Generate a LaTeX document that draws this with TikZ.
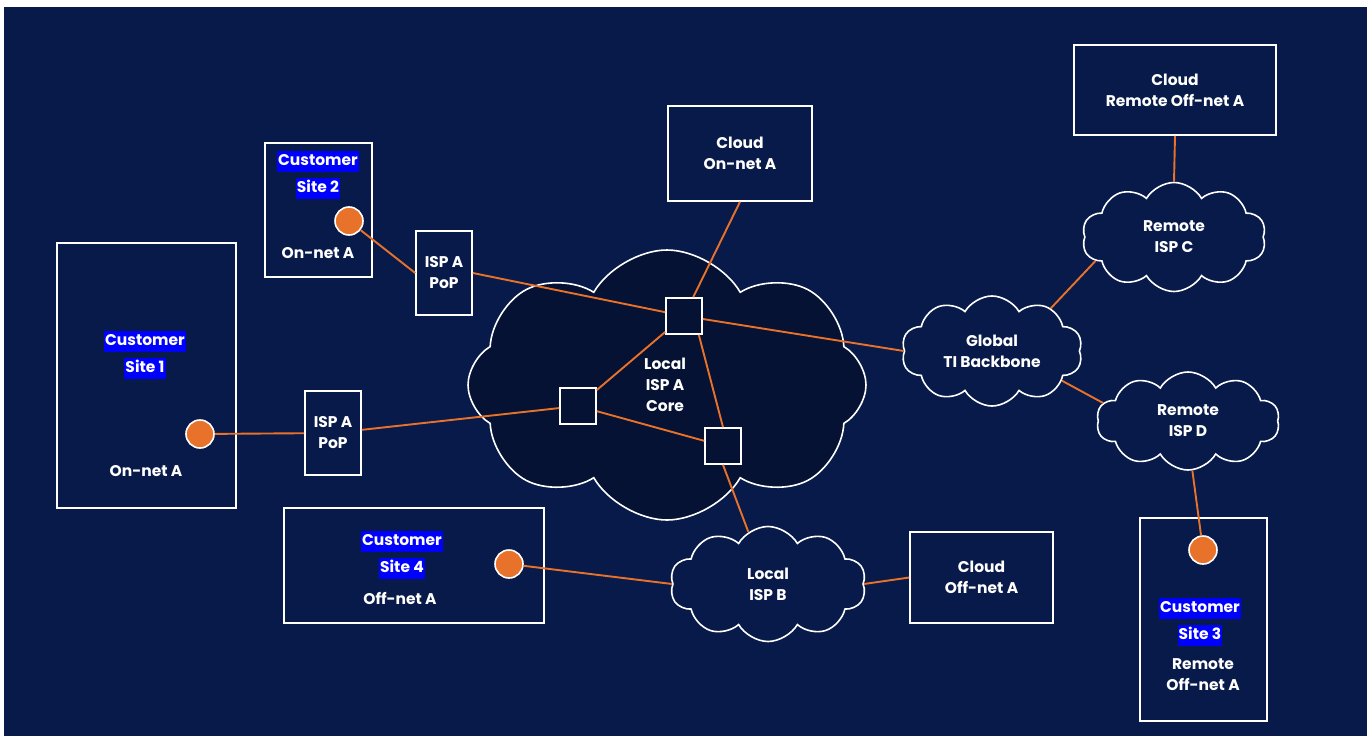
\documentclass[tikz,border=0pt]{standalone}
\usepackage{fontspec}
\setmainfont{Poppins}
\usetikzlibrary{shapes.symbols,calc}
\definecolor{bg}{HTML}{081A4A}
\definecolor{core}{HTML}{051233}
\definecolor{org}{HTML}{E8722A}
\definecolor{hl}{HTML}{0000FF}
\newcommand{\lblfont}{\fontsize{15.5}{21}\selectfont\bfseries}
\tikzset{
 box/.style={draw=white, line width=1.6pt, rectangle, inner sep=0pt, text=white, align=center,
   font=\lblfont},
 lbl/.style={text=white, font=\lblfont, align=center, inner sep=0pt},
 hlt/.style={fill=hl, text=white, font=\lblfont, inner xsep=1pt, inner ysep=0pt, text height=15pt, text depth=6pt},
 dot/.style={circle, fill=org, draw=white, line width=1.6pt, minimum size=28pt, inner sep=0pt},
 link/.style={draw=org, line width=1.9pt},
 cloudn/.style={cloud, cloud puffs=10, cloud puff arc=120, aspect=1.7, draw=white, line width=1.6pt, fill=bg, inner sep=0pt,
   text=white, align=center, font=\lblfont},
 sq/.style={draw=white, line width=1.6pt, fill=core, minimum size=36pt, inner sep=0pt}
}
\begin{document}
\begin{tikzpicture}[x=1pt,y=-1pt]
\useasboundingbox (0,0) rectangle (1367,736);
\fill[white] (0,0) rectangle (1367,736);
\fill[bg] (4,7) rectangle (1367,736);

% boxes
\node[box, minimum width=179pt, minimum height=265pt] (s1) at (146.5,375.5) {};
\node[box, minimum width=107pt, minimum height=134pt] (s2) at (318.5,210) {};
\node[box, minimum width=260pt, minimum height=115pt] (s4) at (414,565.5) {};
\node[box, minimum width=127pt, minimum height=203pt] (s3) at (1203.5,619.5) {};
\node[box, minimum width=56pt, minimum height=84pt] (popU) at (444,273) {ISP A\\PoP};
\node[box, minimum width=56pt, minimum height=84pt] (popL) at (333,433) {ISP A\\PoP};
\node[box, minimum width=144pt, minimum height=95pt] (conA) at (740,153.5) {Cloud\\On-net A};
\node[box, minimum width=202pt, minimum height=90pt] (cRA) at (1175,90) {Cloud\\Remote Off-net A};
\node[box, minimum width=143pt, minimum height=91pt] (cloA) at (981.5,577.5) {Cloud\\Off-net A};

% clouds
\node[cloudn, fill=core, cloud puffs=8, minimum width=398pt, minimum height=270pt] (core) at (667,385) {};
\node[lbl] (coret) at (665,385) {Local\\ISP A\\Core};
\node[cloudn, minimum width=181pt, minimum height=110pt] (glob) at (992,351) {Global\\TI Backbone};
\node[cloudn, minimum width=184pt, minimum height=109pt] (ispC) at (1174,237) {Remote\\ISP C};
\node[cloudn, minimum width=183pt, minimum height=98pt] (ispD) at (1188,421) {Remote\\ISP D};
\node[cloudn, minimum width=196pt, minimum height=115pt] (ispB) at (768,584) {Local\\ISP B};

% core routers
\node[sq] (sq1) at (684,316) {};
\node[sq] (sq2) at (578,406) {};
\node[sq] (sq3) at (723,446) {};

% customer labels
\node[hlt] (h1a) at (145,341) {Customer};
\node[hlt] (h1b) at (145,368) {Site 1};
\node[lbl] (t1) at (146,471) {On-net A};
\node[hlt] (h2a) at (318,161) {Customer};
\node[hlt] (h2b) at (318,188) {Site 2};
\node[lbl] (t2) at (318,253) {On-net A};
\node[hlt] (h4a) at (402,541) {Customer};
\node[hlt] (h4b) at (402,568) {Site 4};
\node[lbl] (t4) at (400,598) {Off-net A};
\node[hlt] (h3a) at (1200,608) {Customer};
\node[hlt] (h3b) at (1200,635) {Site 3};
\node[lbl] (t3) at (1203,674.5) {Remote\\Off-net A};

% dots
\node[dot] (d1) at (200,434) {};
\node[dot] (d2) at (349,221) {};
\node[dot] (d3) at (1203,550) {};
\node[dot] (d4) at (509,564) {};

% links
\draw[link] (d1) -- (popL);
\draw[link] (popL) -- (sq2);
\draw[link] (d2) -- (popU.west);
\draw[link] (popU.east) -- (sq1);
\draw[link] (sq1) -- (glob.west);
\draw[link] (sq1) -- (conA.south);
\draw[link] (sq1) -- (sq2);
\draw[link] ([xshift=-4pt]sq1.south east) -- (sq3.north);
\draw[link] (sq2) -- (sq3);
\draw[link] (sq3.south) -- (ispB);
\draw[link] (d4) -- (ispB.west);
\draw[link] (ispB.east) -- (cloA.west);
\draw[link] (glob.36) -- (ispC.197);
\draw[link] (glob.337) -- (ispD.168);
\draw[link] (ispC.north) -- (cRA.south);
\draw[link] (ispD.-85) -- (d3);
\end{tikzpicture}
\end{document}
